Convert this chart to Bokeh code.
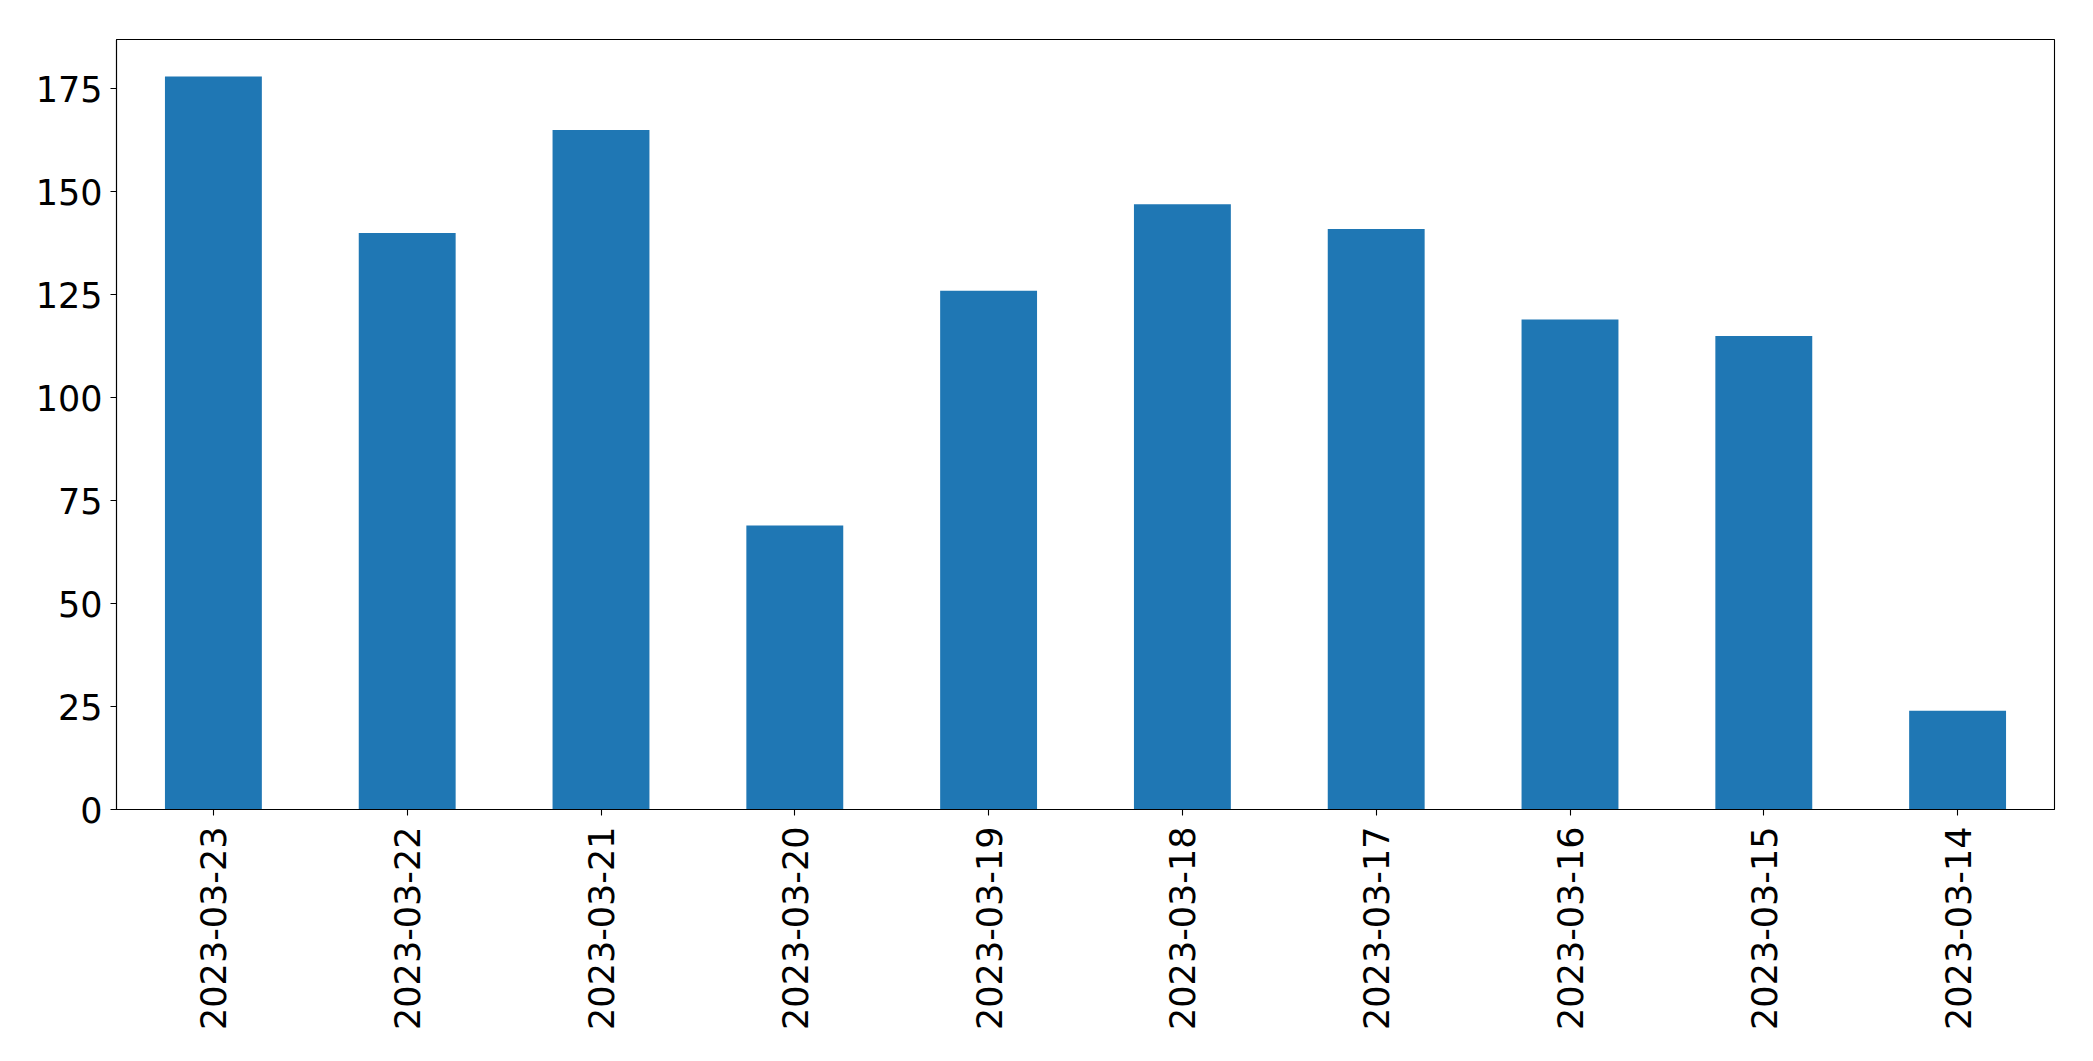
import math
from bokeh.plotting import figure
from bokeh.models import FactorRange, Range1d, FixedTicker, ColumnDataSource
from bokeh.embed import file_html
from bokeh.resources import INLINE

dates = ["2023-03-23", "2023-03-22", "2023-03-21", "2023-03-20", "2023-03-19",
         "2023-03-18", "2023-03-17", "2023-03-16", "2023-03-15", "2023-03-14"]
counts = [178, 140, 165, 69, 126, 147, 141, 119, 115, 24]
y_ticks = [0, 25, 50, 75, 100, 125, 150, 175]

source = ColumnDataSource(data=dict(date=dates, count=counts))

p = figure(
    x_range=FactorRange(*dates),
    y_range=Range1d(0, 187.0),
    width=2077, height=1045,
    output_backend="svg", toolbar_location=None, tools="",
    min_border_left=116, min_border_top=39, min_border_right=23, min_border_bottom=236,
)
p.vbar(x="date", top="count", width=0.5, source=source,
       fill_color="#1f77b4", line_color=None)

p.xgrid.visible = False
p.ygrid.visible = False
p.outline_line_color = "black"
p.outline_line_width = 1.1
p.background_fill_color = "white"
p.border_fill_color = "white"

p.yaxis.ticker = FixedTicker(ticks=y_ticks)
for ax in (p.xaxis[0], p.yaxis[0]):
    ax.axis_line_color = "black"
    ax.axis_line_width = 1.1
    ax.major_tick_line_color = "black"
    ax.major_tick_line_width = 1.1
    ax.major_tick_out = 6
    ax.major_tick_in = 0
    ax.minor_tick_line_color = None
    ax.major_label_text_font = "DejaVu Sans"
    ax.major_label_text_font_size = "35px"
    ax.major_label_text_color = "black"

p.xaxis.major_label_orientation = math.pi / 2
p.xaxis.major_label_standoff = 11
p.yaxis.major_label_standoff = 8

open("out.html", "w").write(file_html(p, INLINE))
